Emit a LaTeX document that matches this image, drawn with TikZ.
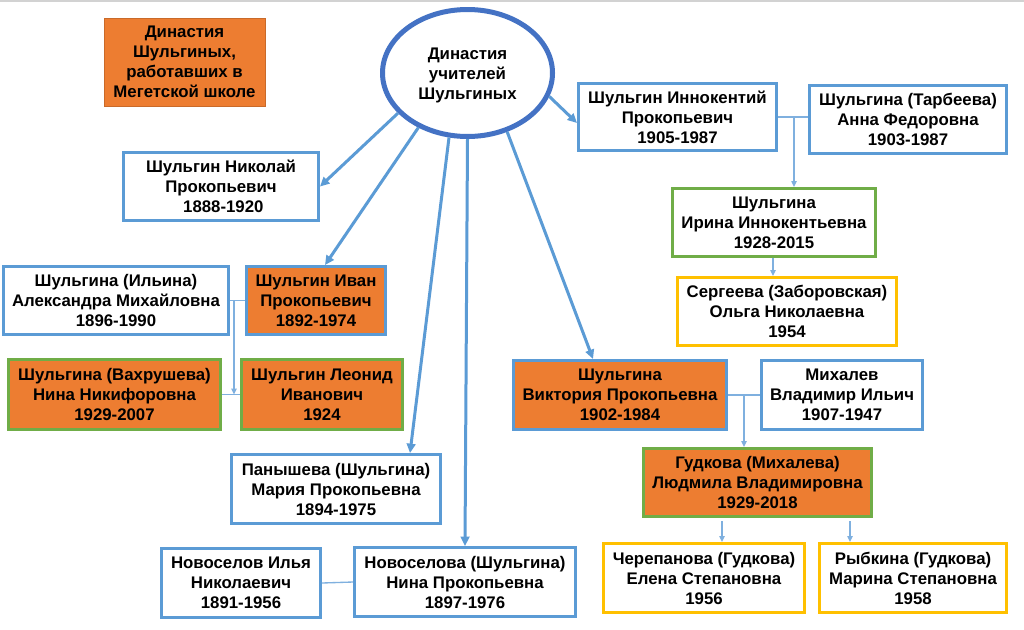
\documentclass[tikz,border=0pt]{standalone}
\usepackage{fontspec}
\setmainfont{Liberation Sans}
\usetikzlibrary{arrows.meta,calc,shapes.geometric}
\definecolor{bblue}{HTML}{5B9BD5}
\definecolor{dblue}{HTML}{4472C4}
\definecolor{org}{HTML}{ED7D31}
\definecolor{grn}{HTML}{70AD47}
\definecolor{ylw}{HTML}{FFC000}
\definecolor{thinc}{HTML}{7FB0DF}
\begin{document}
\begin{tikzpicture}[x=0.75pt,y=-0.75pt,
 every node/.style={font=\bfseries\fontsize{12.6}{15}\selectfont, align=center, inner sep=0pt},
 sz/.style 2 args={minimum width=#1*0.75pt, minimum height=#2*0.75pt},
 pbox/.style={rectangle, draw=bblue, line width=2.25pt, fill=white},
 obox/.style={rectangle, draw=bblue, line width=2.25pt, fill=org},
 gobox/.style={rectangle, draw=grn, line width=2.25pt, fill=org},
 gbox/.style={rectangle, draw=grn, line width=2.25pt, fill=white},
 ybox/.style={rectangle, draw=ylw, line width=2.25pt, fill=white},
 main/.style={draw=bblue, line width=2.25pt, -{Triangle[length=7pt,width=6.5pt]}},
 tie/.style={draw=thinc, line width=1pt},
 kid/.style={tie, -{Triangle[length=4.5pt,width=4pt]}},
]
\useasboundingbox (0,0) rectangle (1024,629);
\fill[white] (0,0) rectangle (1024,629);
\draw[gray!35, line width=1.2pt] (0,0.8) -- (1024,0.8);

% legend and centre
\node[rectangle, fill=org, draw=org!85!black, line width=0.4pt, sz={161}{88}] (leg) at (184.5,62) {Династия\\Шульгиных,\\работавших в\\Мегетской школе};
\node[ellipse, draw=dblue, line width=3.75pt, fill=white, sz={170}{127}] (dyn) at (467.5,73) {\raisebox{-5pt}[0pt][0pt]{\begin{tabular}{@{}c@{}}Династия\\учителей\\Шульгиных\end{tabular}}};

% persons
\node[pbox, sz={195}{68}] (nik) at (221,186.5) {Шульгин Николай\\Прокопьевич\\\ 1888-1920};
\node[pbox, sz={198}{67}] (inn) at (677.5,117) {Шульгин Иннокентий\\Прокопьевич\\1905-1987};
\node[pbox, sz={197}{68}] (tar) at (908,119.5) {Шульгина (Тарбеева)\\Анна Федоровна\\1903-1987};
\node[gbox, sz={203}{68}] (iri) at (774,222.5) {Шульгина\\Ирина Иннокентьевна\\1928-2015};
\node[ybox, sz={219}{68}] (ser) at (787,311.5) {Сергеева (Заборовская)\\Ольга Николаевна\\1954};
\node[pbox, sz={225}{68}] (ilj) at (116,300.5) {Шульгина (Ильина)\\Александра Михайловна\\1896-1990};
\node[obox, sz={139}{68}] (iva) at (316,300.5) {Шульгин Иван\\Прокопьевич\\1892-1974};
\node[gobox, sz={212}{70}] (vah) at (114.5,394.5) {Шульгина (Вахрушева)\\Нина Никифоровна\\1929-2007};
\node[gobox, sz={161}{70}] (leo) at (322,394.5) {Шульгин Леонид\\Иванович\\1924};
\node[obox, sz={213}{69}] (vik) at (620,395) {Шульгина\\Виктория Прокопьевна\\1902-1984};
\node[pbox, sz={161}{69}] (mih) at (842,395) {Михалев\\Владимир Ильич\\1907-1947};
\node[gobox, sz={228}{68}] (gud) at (757.5,482.5) {Гудкова (Михалева)\\Людмила Владимировна\\1929-2018};
\node[pbox, sz={209}{69}] (pan) at (336,489) {Панышева (Шульгина)\\Мария Прокопьевна\\1894-1975};
\node[pbox, sz={159}{69}] (nvl) at (241,583) {Новоселов Илья\\Николаевич\\1891-1956};
\node[pbox, sz={221}{69}] (nvs) at (465,582) {Новоселова (Шульгина)\\Нина Прокопьевна\\1897-1976};
\node[ybox, sz={201}{69}] (che) at (704,578) {Черепанова (Гудкова)\\Елена Степановна\\1956};
\node[ybox, sz={187}{69}] (ryb) at (913,578) {Рыбкина (Гудкова)\\Марина Степановна\\1958};

% main arrows from the centre
\draw[main] (dyn.210) -- (nik.east);
\draw[main] (dyn.228) -- ($(iva.north)+(9,0)$);
\draw[main] (dyn.254) -- ($(pan.north)+(74,0)$);
\draw[main] (dyn.south) -- (nvs.north);
\draw[main] (dyn.304) -- ($(vik.north)+(-27,0)$);
\draw[main] (dyn.344) -- ($(inn.west)+(0,6)$);

% family links
\coordinate (j1) at (234,300.5);
\draw[tie] (ilj.east) -- (iva.west);
\draw[tie] (vah.east) -- (leo.west);
\draw[kid] (j1) -- (j1 |- vah.east);

\coordinate (j2) at (794,117);
\draw[tie] (inn.east) -- (inn.east -| tar.west);
\draw[kid] (j2) -- (j2 |- iri.north);
\draw[kid] ($(iri.south)+(-1,0)$) -- ($(iri.south |- ser.north)+(-1,0)$);

\coordinate (j3) at (744,395);
\draw[tie] (vik.east) -- (mih.west);
\draw[kid] (j3) -- (j3 |- gud.north);

\coordinate (k1) at (722,521);
\coordinate (k2) at (850,521);
\draw[kid] (k1) -- (k1 |- che.north);
\draw[kid] (k2) -- (k2 |- ryb.north);

\draw[tie] (nvl.east) -- (nvs.west);
\end{tikzpicture}
\end{document}
